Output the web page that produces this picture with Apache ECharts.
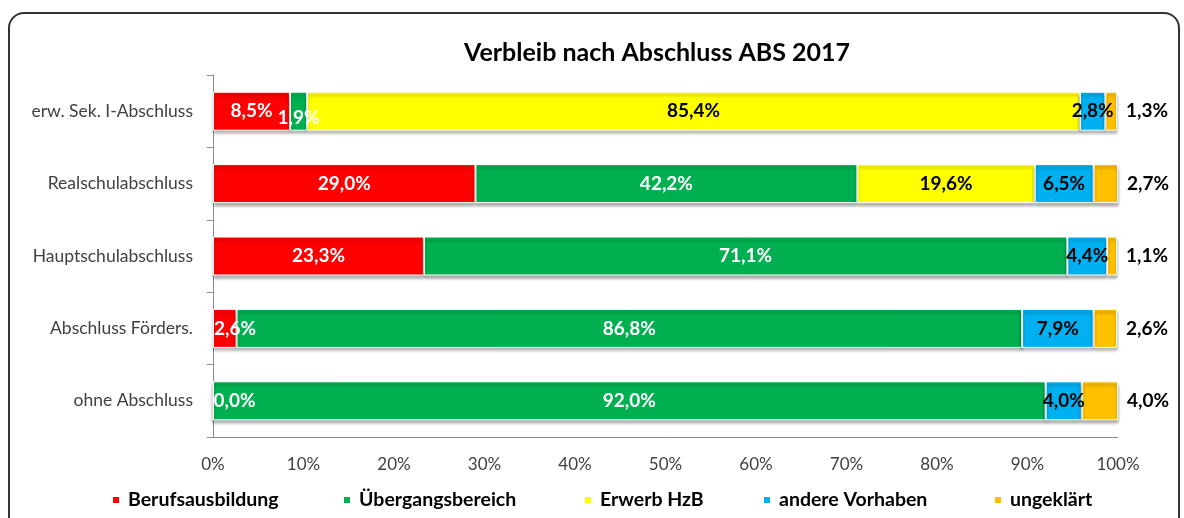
<!DOCTYPE html>
<html>
<head>
<meta charset="utf-8">
<script src="https://cdn.jsdelivr.net/npm/echarts@6/dist/echarts.min.js"></script>
<style>
  html, body { margin: 0; padding: 0; background: #fff; }
  #frame {
    position: absolute; left: 8px; top: 12px; width: 1172px; height: 530px;
    border: 2px solid #333; border-radius: 16px; box-sizing: border-box;
  }
  #chart { position: absolute; left: 0; top: 0; width: 1184px; height: 518px; }
</style>
</head>
<body>
<div id="frame"></div>
<div id="chart"></div>
<script>
const categories = ['erw. Sek. I-Abschluss', 'Realschulabschluss', 'Hauptschulabschluss', 'Abschluss Förders.', 'ohne Abschluss']
const berufsausbildung = [8.5, 29.0, 23.3, 2.6, 0.0]
const uebergangsbereich = [1.9, 42.2, 71.1, 86.8, 92.0]
const erwerbHzB = [85.4, 19.6, 0, 0, 0]
const andereVorhaben = [2.8, 6.5, 4.4, 7.9, 4.0]
const ungeklaert = [1.3, 2.7, 1.1, 2.6, 4.0]
const xTicks = [0, 10, 20, 30, 40, 50, 60, 70, 80, 90, 100]

const font = 'Lato, "Open Sans", sans-serif'
const fmt = (v) => v.toFixed(1).replace('.', ',') + '%'

const barStyle = (color) => ({
  color: color,
  borderColor: '#fff',
  borderWidth: 1,
  shadowColor: 'rgba(0,0,0,0.35)',
  shadowBlur: 3,
  shadowOffsetY: 3,
})

function makeSeries(name, values, color, labelColor, hideZero) {
  return {
    name: name,
    type: 'bar',
    stack: 'total',
    barWidth: 39,
    itemStyle: barStyle(color),
    label: {
      show: true,
      position: 'inside',
      color: labelColor,
      fontFamily: font,
      fontWeight: 'bold',
      fontSize: 19,
      formatter: (p) => (hideZero && p.value === 0 ? '' : fmt(p.value)),
    },
    data: values.map((v) => v),
  }
}

const seriesBeruf = makeSeries('Berufsausbildung', berufsausbildung, '#ff0000', '#fff', false)
// narrow red segments: label starts at the plot edge
seriesBeruf.data = berufsausbildung.map((v) =>
  v < 5 ? { value: v, label: { position: 'insideLeft', distance: 1 } } : v
)
const seriesUeber = makeSeries('Übergangsbereich', uebergangsbereich, '#00b050', '#fff', false)
seriesUeber.data = uebergangsbereich.map((v) =>
  v < 3 ? { value: v, label: { offset: [0, 7] } } : v
)
const seriesHzB = makeSeries('Erwerb HzB', erwerbHzB, '#ffff00', '#000', true)
const seriesAndere = makeSeries('andere Vorhaben', andereVorhaben, '#00b0f0', '#000', false)
const seriesUngekl = makeSeries('ungeklärt', ungeklaert, '#ffc000', '#000', false)
seriesUngekl.label.position = 'right'
seriesUngekl.label.distance = 9

const legendItem = (name, left) => ({
  data: [name],
  left: left,
  top: 485,
  icon: 'rect',
  itemWidth: 8,
  itemHeight: 8,
  itemGap: 0,
  textStyle: { fontFamily: font, fontSize: 19.5, fontWeight: 'bold', color: '#000', padding: [0, 0, 0, 3] },
})

const option = {
  animation: false,
  title: {
    text: 'Verbleib nach Abschluss ABS 2017',
    left: 459,
    top: 35,
    textStyle: { fontFamily: font, fontSize: 25, fontWeight: 'bold', color: '#000' },
  },
  grid: { left: 213, right: 66, top: 75, bottom: 81 },
  legend: [
    legendItem('Berufsausbildung', 106),
    legendItem('Übergangsbereich', 337),
    legendItem('Erwerb HzB', 578),
    legendItem('andere Vorhaben', 757),
    legendItem('ungeklärt', 988),
  ],
  xAxis: {
    type: 'value',
    min: xTicks[0],
    max: xTicks[xTicks.length - 1],
    interval: 10,
    splitLine: { show: false },
    axisLine: { show: true, lineStyle: { color: '#8c8c8c', width: 1 } },
    axisTick: { show: false },
    axisLabel: {
      margin: 19,
      fontFamily: font,
      fontSize: 17,
      color: '#404040',
      formatter: (v) => v + '%',
    },
  },
  yAxis: {
    type: 'category',
    inverse: true,
    data: categories,
    axisLine: { show: true, lineStyle: { color: '#8c8c8c', width: 1 } },
    axisTick: { show: true, length: 6, lineStyle: { color: '#8c8c8c' } },
    axisLabel: { margin: 20, fontFamily: font, fontSize: 17.5, color: '#404040' },
  },
  series: [seriesBeruf, seriesUeber, seriesHzB, seriesAndere, seriesUngekl],
}

const chart = echarts.init(document.getElementById('chart'))
chart.setOption(option)
window.addEventListener('resize', () => {
  chart.resize()
})
</script>
</body>
</html>
